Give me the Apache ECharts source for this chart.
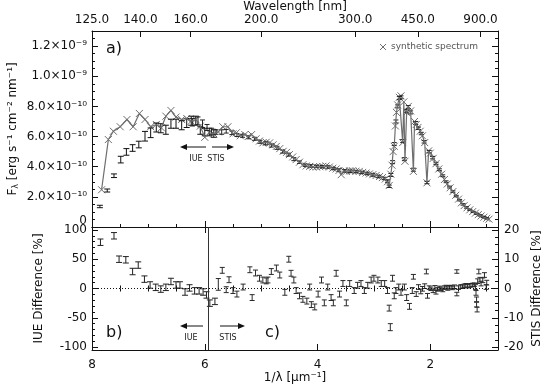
<!DOCTYPE html>
<html>
<head>
<meta charset="utf-8">
<title>Spectrum</title>
<script src="https://cdn.jsdelivr.net/npm/echarts@6/dist/echarts.min.js"></script>
<style>
html, body { margin: 0; padding: 0; background: #fff; }
#chart { width: 546px; height: 389px; }
</style>
</head>
<body>
<div id="chart"></div>
<script>
// axis ticks
var waveTicks = [125, 140, 160, 200, 300, 450, 900];          // nm, top axis
var invTicks = [2, 4, 6, 8];                                   // 1/lambda labels
var invMinorTicks = [1, 1.5, 2.5, 3, 3.5, 4.5, 5, 5.5, 6.5, 7, 7.5];
var fluxTicks = [0, 2, 4, 6, 8, 10, 12];                      // units of 1e-10
var fluxMinorTicks = [0.5, 1, 1.5, 2.5, 3, 3.5, 4.5, 5, 5.5, 6.5, 7, 7.5, 8.5, 9, 9.5, 10.5, 11, 11.5, 12.5];
var iueTicks = [-100, -50, 0, 50, 100];
var iueMinorTicks = [-90, -80, -70, -60, -40, -30, -20, -10, 10, 20, 30, 40, 60, 70, 80, 90];
var stisTicks = [-20, -10, 0, 10, 20];
var stisMinorTicks = [-17.5, -15, -12.5, -7.5, -5, -2.5, 2.5, 5, 7.5, 12.5, 15, 17.5];
var iueStisSplit = 5.93;

// synthetic spectrum (flux in 1e-10 erg s-1 cm-2 nm-1)
var synthX = [7.83, 7.71, 7.62, 7.50, 7.38, 7.27, 7.16, 7.06, 6.96, 6.86, 6.77, 6.69, 6.60, 6.51, 6.41, 6.32,
    6.24, 6.16, 6.08, 6.00, 5.92, 5.84, 5.76, 5.68, 5.59, 5.50, 5.44, 5.37, 5.29, 5.23, 5.17, 5.09, 5.03, 4.97,
    4.91, 4.85, 4.79, 4.73, 4.67, 4.61, 4.55, 4.50, 4.44, 4.38, 4.32, 4.26, 4.20, 4.14, 4.08, 4.02, 3.96, 3.91,
    3.85, 3.79, 3.73, 3.67, 3.62, 3.58, 3.53, 3.49, 3.43, 3.38, 3.32, 3.26, 3.20, 3.14, 3.08, 3.02, 2.96, 2.90,
    2.85, 2.80, 2.76, 2.73, 2.70, 2.68, 2.66, 2.64, 2.62, 2.60, 2.58, 2.55, 2.52, 2.49, 2.47, 2.45, 2.42, 2.39,
    2.35, 2.30, 2.28, 2.25, 2.22, 2.18, 2.14, 2.10, 2.06, 2.03, 2.00, 1.95, 1.90, 1.85, 1.80, 1.75, 1.70, 1.65,
    1.60, 1.55, 1.50, 1.45, 1.40, 1.35, 1.30, 1.25, 1.20, 1.15, 1.10, 1.05, 1.00, 0.96];
var synthF = [2.47, 5.80, 6.35, 6.65, 7.13, 6.65, 7.53, 7.13, 6.65, 6.80, 6.58, 7.35, 7.73, 7.29, 7.13, 7.20,
    7.02, 7.13, 6.69, 5.95, 6.25, 6.18, 6.31, 6.65, 6.65, 6.18, 6.25, 6.05, 6.13, 6.00, 6.13, 5.85, 5.70, 5.58,
    5.62, 5.58, 5.45, 5.35, 5.20, 5.02, 4.95, 4.80, 4.65, 4.47, 4.30, 4.13, 4.05, 4.02, 3.98, 3.98, 4.00, 4.02,
    4.05, 3.98, 3.90, 3.85, 3.75, 3.47, 3.72, 3.69, 3.72, 3.73, 3.70, 3.69, 3.62, 3.58, 3.52, 3.47, 3.42, 3.35,
    3.28, 3.18, 3.00, 2.75, 3.50, 4.10, 5.00, 5.35, 6.70, 7.60, 8.10, 8.60, 8.70, 5.60, 8.30, 4.36, 7.60, 8.00,
    7.70, 3.69, 7.00, 6.80, 6.60, 6.35, 6.05, 5.60, 2.93, 5.05, 4.90, 4.55, 4.20, 3.85, 3.50, 3.15, 2.85, 2.60,
    2.35, 2.10, 1.85, 1.60, 1.42, 1.27, 1.14, 1.02, 0.92, 0.82, 0.73, 0.65, 0.58, 0.52];

// IUE fluxes
var fluxIueX = [7.86, 7.73, 7.61, 7.49, 7.39, 7.28, 7.17, 7.06, 6.96, 6.86, 6.78, 6.69, 6.60, 6.51, 6.41, 6.32,
    6.24, 6.16, 6.08, 6.00, 5.92, 5.84];
var fluxIue = [1.36, 2.42, 3.40, 4.47, 4.98, 5.24, 5.47, 6.02, 6.25, 6.60, 6.55, 6.45, 6.85, 6.85, 6.75, 6.90,
    7.05, 7.05, 6.40, 6.30, 6.30, 6.20];
var fluxIueErr = [0.08, 0.1, 0.12, 0.22, 0.22, 0.22, 0.22, 0.32, 0.32, 0.3, 0.3, 0.3, 0.3, 0.3, 0.3, 0.3,
    0.3, 0.3, 0.25, 0.25, 0.25, 0.25];

// STIS fluxes
var fluxStisX = [6.22, 6.12, 6.04, 5.96, 5.88, 5.80, 5.70, 5.62, 5.52, 5.43, 5.33, 5.22, 5.12, 5.02, 4.92, 4.82,
    4.72, 4.62, 4.52, 4.42, 4.32, 4.22, 4.12, 4.02, 3.92, 3.82, 3.72, 3.62, 3.52, 3.42, 3.32, 3.22, 3.12, 3.02,
    2.92, 2.82, 2.76, 2.73, 2.70, 2.67, 2.64, 2.61, 2.58, 2.55, 2.52, 2.49, 2.46, 2.43, 2.39, 2.35, 2.30, 2.26,
    2.21, 2.16, 2.11, 2.06, 2.02, 1.96, 1.90, 1.84, 1.78, 1.72, 1.66, 1.60, 1.54, 1.48, 1.42, 1.36, 1.30, 1.24,
    1.18, 1.12, 1.06, 1.00];
var fluxStis = [6.95, 7.05, 6.85, 6.60, 6.35, 6.30, 6.30, 6.35, 6.25, 6.10, 6.05, 5.95, 5.85, 5.65, 5.55, 5.40,
    5.25, 5.00, 4.80, 4.50, 4.30, 4.10, 4.05, 4.02, 4.00, 3.98, 3.88, 3.78, 3.72, 3.70, 3.68, 3.62, 3.55, 3.45,
    3.35, 3.22, 3.05, 2.70, 3.45, 4.30, 5.50, 7.00, 8.00, 8.55, 8.60, 5.70, 4.50, 7.70, 7.95, 7.60, 3.80, 6.90,
    6.55, 6.20, 5.65, 2.95, 5.00, 4.60, 4.20, 3.80, 3.40, 3.00, 2.65, 2.35, 2.05, 1.78, 1.50, 1.30, 1.14, 1.00,
    0.88, 0.77, 0.66, 0.58];
var fluxStisErr = [0.25, 0.25, 0.25, 0.2, 0.2, 0.15, 0.15, 0.12, 0.12, 0.1, 0.1, 0.1, 0.1, 0.1, 0.1, 0.1,
    0.1, 0.1, 0.1, 0.1, 0.08, 0.08, 0.08, 0.08, 0.08, 0.08, 0.08, 0.08, 0.08, 0.08, 0.08, 0.08, 0.08, 0.08,
    0.08, 0.08, 0.08, 0.08, 0.1, 0.1, 0.1, 0.1, 0.1, 0.1, 0.1, 0.1, 0.1, 0.1, 0.1, 0.1, 0.1, 0.1,
    0.08, 0.08, 0.08, 0.08, 0.08, 0.08, 0.06, 0.06, 0.06, 0.06, 0.06, 0.05, 0.05, 0.05, 0.05, 0.05, 0.04, 0.04,
    0.04, 0.04, 0.04, 0.04];

// IUE difference [%]
var iueX = [7.85, 7.61, 7.52, 7.40, 7.28, 7.18, 7.07, 6.97, 6.87, 6.78, 6.69, 6.60, 6.51, 6.44, 6.35, 6.27,
    6.18, 6.10, 6.03, 5.97, 5.91, 5.82];
var iueDiff = [79, 90, 50, 49, 29, 40, 16, 6, 2, -1, 2, 12, 6, 6, -6, 1, -4, -4, -6, -11, -25, -22];
var iueErr = [5.5, 5.5, 5.5, 5.5, 5.5, 5.5, 5.5, 5.5, 5.5, 5.5, 5.5, 5.5, 5.5, 5.5, 5.5, 5.5, 5.5, 5.5, 5.5,
    5.5, 5.5, 5.5];

// STIS difference [%]
var stisX = [5.76, 5.69, 5.62, 5.57, 5.50, 5.43, 5.32, 5.20, 5.16, 5.10, 5.03, 4.97, 4.91, 4.88, 4.82, 4.73,
    4.67, 4.58, 4.51, 4.47, 4.42, 4.38, 4.32, 4.26, 4.19, 4.14, 4.11, 4.05, 3.99, 3.93, 3.88, 3.82, 3.76, 3.72,
    3.67, 3.61, 3.55, 3.49, 3.43, 3.35, 3.29, 3.23, 3.17, 3.11, 3.05, 3.00, 2.93, 2.87, 2.81, 2.76, 2.73, 2.71,
    2.67, 2.64, 2.61, 2.56, 2.52, 2.46, 2.42, 2.37, 2.32, 2.30, 2.25, 2.21, 2.17, 2.14, 2.10, 2.07, 2.05, 2.02,
    1.99, 1.95, 1.92, 1.90, 1.87, 1.84, 1.81, 1.78, 1.75, 1.72, 1.69, 1.66, 1.63, 1.60, 1.57, 1.53, 1.53, 1.50,
    1.46, 1.43, 1.40, 1.37, 1.34, 1.31, 1.28, 1.25, 1.22, 1.20, 1.19, 1.18, 1.18, 1.17, 1.16, 1.14, 1.12, 1.10,
    1.07, 1.04, 1.01, 1.00];
var stisDiff = [1.4, 6.2, -0.4, 3.0, -0.7, -1.9, 0.5, 6.4, -3.1, 5.3, 3.5, 2.9, 2.6, 2.9, 5.8, 7.0,
    4.6, -1.3, 10.0, 5.2, 2.9, -0.7, -2.5, -3.7, -4.3, 0.5, -5.5, -6.3, -1.9, 2.9, -4.9, 0.5, -3.1, -4.9,
    5.2, -1.9, 1.7, -4.9, 1.7, -0.7, 1.1, 1.7, -0.7, 1.1, 2.9, 3.5, 2.9, 1.7, 1.7, -0.7, -6.7, -13.2,
    3.5, -2.5, -0.7, 0.5, -1.3, 0.5, -3.1, -6.1, -0.7, 4.0, -1.9, 0.5, -1.0, -0.1, 0.8, 5.8, -2.5, 0.3,
    -0.1, -0.8, 0.4, -1.3, -0.3, 0.2, -0.1, -0.5, 0.3, 0.5, 0.0, 0.4, 0.5, 0.2, 0.6, 5.8, -1.9, 0.3,
    0.7, 0.6, 0.9, 1.1, 0.8, 1.0, 1.1, 1.2, 1.3, 0.5, -1.5, -3.7, -5.5, -7.2, 2.5, 5.8, 3.0, 1.7,
    2.8, 4.6, 0.5, 2.0];
var stisErr = [2.0, 1.0, 1.0, 1.0, 1.0, 1.0, 1.0, 1.0, 1.0, 1.0, 1.0, 1.0, 1.0, 1.0, 1.0, 1.0,
    1.0, 1.0, 1.0, 1.0, 1.0, 1.0, 1.0, 1.0, 1.0, 1.0, 1.0, 1.0, 1.0, 1.0, 1.0, 1.0, 1.0, 1.0,
    1.0, 1.0, 1.0, 1.0, 1.0, 1.0, 1.0, 1.0, 1.0, 1.0, 1.0, 1.0, 1.0, 1.0, 1.0, 1.0, 1.0, 1.2,
    1.0, 1.0, 1.0, 1.0, 1.0, 1.0, 1.0, 1.0, 1.0, 0.8, 0.8, 0.8, 0.8, 0.8, 0.8, 0.8, 0.8, 0.6,
    0.6, 0.6, 0.6, 0.6, 0.6, 0.6, 0.6, 0.6, 0.6, 0.6, 0.6, 0.6, 0.6, 0.6, 0.6, 0.6, 0.6, 0.6,
    0.6, 0.6, 0.6, 0.6, 0.6, 0.6, 0.6, 0.6, 0.6, 0.8, 0.8, 0.8, 0.8, 0.8, 0.8, 0.8, 0.8, 0.8,
    0.8, 0.8, 0.8, 0.8];

var font = 'DejaVu Sans';
var axisColor = '#111';
var synthColor = '#6e6e6e';

function zip(xs, ys, es) {
    return xs.map(function (x, i) {
        return es ? [x, ys[i], es[i]] : [x, ys[i]];
    });
}

function sup(n) {
    var map = {'-': '\u207b', '0': '\u2070', '1': '\u00b9', '2': '\u00b2', '3': '\u00b3', '4': '\u2074',
        '5': '\u2075', '6': '\u2076', '7': '\u2077', '8': '\u2078', '9': '\u2079'};
    return String(n).split('').map(function (c) { return map[c]; }).join('');
}

function sciLabel(v) {
    if (v === 0) return '0';
    var val = v * 1e-10;
    var exp = Math.floor(Math.log10(val) + 1e-9);
    var mant = val / Math.pow(10, exp);
    return mant.toFixed(1) + '\u00d710' + sup(exp);
}

// vertical error bar with caps
function errorBar(color, cap) {
    return function (params, api) {
        var x = api.value(0), y = api.value(1), e = api.value(2);
        var hi = api.coord([x, y + e]);
        var lo = api.coord([x, y - e]);
        return {
            type: 'group',
            children: [
                {type: 'line', shape: {x1: hi[0], y1: hi[1], x2: lo[0], y2: lo[1]}, style: {stroke: color, lineWidth: 1}},
                {type: 'line', shape: {x1: hi[0] - cap, y1: hi[1], x2: hi[0] + cap, y2: hi[1]}, style: {stroke: color, lineWidth: 1}},
                {type: 'line', shape: {x1: lo[0] - cap, y1: lo[1], x2: lo[0] + cap, y2: lo[1]}, style: {stroke: color, lineWidth: 1}}
            ]
        };
    };
}

// x shaped marker
function crossMark(color, r) {
    return function (params, api) {
        var p = api.coord([api.value(0), api.value(1)]);
        return {
            type: 'group',
            children: [
                {type: 'line', shape: {x1: p[0] - r, y1: p[1] - r, x2: p[0] + r, y2: p[1] + r}, style: {stroke: color, lineWidth: 1}},
                {type: 'line', shape: {x1: p[0] - r, y1: p[1] + r, x2: p[0] + r, y2: p[1] - r}, style: {stroke: color, lineWidth: 1}}
            ]
        };
    };
}

function xAx(grid, pos, ticks, len, opts) {
    var a = {
        gridIndex: grid, type: 'value', position: pos, min: 0.8, max: 8, inverse: true,
        nameMoveOverlap: false,
        axisLine: {show: true, onZero: false, lineStyle: {color: axisColor}},
        axisTick: {show: true, inside: true, length: len, customValues: ticks, lineStyle: {color: axisColor}},
        axisLabel: {show: false, customValues: ticks},
        splitLine: {show: false}
    };
    return Object.assign(a, opts || {});
}

function yAx(grid, pos, min, max, ticks, len, opts) {
    var a = {
        gridIndex: grid, type: 'value', position: pos, min: min, max: max,
        nameMoveOverlap: false,
        axisLine: {show: true, onZero: false, lineStyle: {color: axisColor}},
        axisTick: {show: true, inside: true, length: len, customValues: ticks, lineStyle: {color: axisColor}},
        axisLabel: {show: false, customValues: ticks},
        splitLine: {show: false}
    };
    return Object.assign(a, opts || {});
}

var labelStyle = {show: true, color: '#111', fontFamily: font, fontSize: 12};
var nameStyle = {color: '#111', fontFamily: font, fontSize: 12};

var myChart = echarts.init(document.getElementById('chart'));

var option = {
    backgroundColor: '#fff',
    animation: false,
    grid: [
        {left: 92, right: 48, top: 31, height: 196, outerBoundsMode: 'none', containLabel: false},
        {left: 92, right: 48, top: 227, height: 123, outerBoundsMode: 'none', containLabel: false}
    ],
    xAxis: [
        xAx(0, 'bottom', invTicks, 6),
        xAx(0, 'bottom', invMinorTicks, 3, {axisLine: {show: false}}),
        xAx(0, 'top', waveTicks.map(function (w) { return 1000 / w; }), 6, {
            name: 'Wavelength [nm]', nameLocation: 'middle', nameGap: 18, nameTextStyle: nameStyle,
            axisLabel: Object.assign({}, labelStyle, {
                customValues: waveTicks.map(function (w) { return 1000 / w; }),
                margin: 5,
                formatter: function (v) { return (1000 / v).toFixed(1); }
            })
        }),
        xAx(1, 'bottom', invTicks, 6, {
            name: '1/\u03bb [\u03bcm\u207b\u00b9]', nameLocation: 'middle', nameGap: 22, nameTextStyle: nameStyle,
            axisLabel: Object.assign({}, labelStyle, {customValues: invTicks, margin: 9})
        }),
        xAx(1, 'bottom', invMinorTicks, 3, {axisLine: {show: false}}),
        xAx(1, 'top', invTicks, 6),
        xAx(1, 'top', invMinorTicks, 3, {axisLine: {show: false}})
    ],
    yAxis: [
        yAx(0, 'left', 0, 13, fluxTicks, 6, {
            axisLabel: Object.assign({}, labelStyle, {
                customValues: fluxTicks, formatter: sciLabel, margin: 5, verticalAlignMinLabel: 'bottom'
            }),
            name: '{f|F}{l|\u03bb} [erg s\u207b\u00b9 cm\u207b\u00b2 nm\u207b\u00b9]',
            nameLocation: 'middle', nameGap: 72,
            nameTextStyle: Object.assign({}, nameStyle, {rich: {
                f: {fontFamily: font, fontSize: 12, color: '#111'},
                l: {fontFamily: font, fontSize: 8, color: '#111', padding: [6, 0, 0, 0]}
            }})
        }),
        yAx(0, 'left', 0, 13, fluxMinorTicks, 3, {axisLine: {show: false}}),
        yAx(0, 'right', 0, 13, fluxTicks, 6),
        yAx(0, 'right', 0, 13, fluxMinorTicks, 3, {axisLine: {show: false}}),
        yAx(1, 'left', -105, 105, iueTicks, 6, {
            axisLabel: Object.assign({}, labelStyle, {customValues: iueTicks, margin: 5}),
            name: 'IUE Difference [%]', nameLocation: 'middle', nameGap: 47, nameTextStyle: nameStyle
        }),
        yAx(1, 'left', -105, 105, iueMinorTicks, 3, {axisLine: {show: false}}),
        yAx(1, 'right', -21, 21, stisTicks, 6, {
            axisLabel: Object.assign({}, labelStyle, {customValues: stisTicks, margin: 6}),
            name: 'STIS Difference [%]', nameLocation: 'middle', nameGap: 33, nameTextStyle: nameStyle
        }),
        yAx(1, 'right', -21, 21, stisMinorTicks, 3, {axisLine: {show: false}})
    ],
    series: [
        {
            name: 'synthetic line', type: 'line', xAxisIndex: 0, yAxisIndex: 0,
            data: zip(synthX, synthF), symbol: 'none', silent: true,
            lineStyle: {color: synthColor, width: 1.2}
        },
        {
            name: 'synthetic spectrum', type: 'custom', xAxisIndex: 0, yAxisIndex: 0,
            data: zip(synthX, synthF), encode: {x: 0, y: 1},
            renderItem: crossMark(synthColor, 3.5)
        },
        {
            name: 'IUE flux', type: 'custom', xAxisIndex: 0, yAxisIndex: 0,
            data: zip(fluxIueX, fluxIue, fluxIueErr), encode: {x: 0, y: 1},
            renderItem: errorBar('#111', 3)
        },
        {
            name: 'STIS flux', type: 'custom', xAxisIndex: 0, yAxisIndex: 0,
            data: zip(fluxStisX, fluxStis, fluxStisErr), encode: {x: 0, y: 1},
            renderItem: errorBar('#222', 2.5)
        },
        {
            name: 'IUE diff', type: 'custom', xAxisIndex: 3, yAxisIndex: 4,
            data: zip(iueX, iueDiff, iueErr), encode: {x: 0, y: 1},
            renderItem: errorBar('#222', 3),
            markLine: {
                silent: true, symbol: 'none', label: {show: false},
                data: [
                    {yAxis: 0, lineStyle: {color: '#111', type: [1, 2], width: 1}},
                    {xAxis: iueStisSplit, lineStyle: {color: '#333', type: 'solid', width: 1}}
                ]
            }
        },
        {
            name: 'STIS diff', type: 'custom', xAxisIndex: 3, yAxisIndex: 6,
            data: zip(stisX, stisDiff, stisErr), encode: {x: 0, y: 1},
            renderItem: errorBar('#2a2a2a', 2.5)
        }
    ],
    graphic: [
        {type: 'text', left: 106, top: 41, style: {text: 'a)', font: '16px ' + font, fill: '#111'}},
        {type: 'text', left: 106, top: 325, style: {text: 'b)', font: '16px ' + font, fill: '#111'}},
        {type: 'text', left: 265, top: 325, style: {text: 'c)', font: '16px ' + font, fill: '#111'}},
        // top panel arrows
        {type: 'line', shape: {x1: 183, y1: 147, x2: 206, y2: 147}, style: {stroke: '#111', lineWidth: 1}},
        {type: 'polygon', shape: {points: [[180, 147], [187, 144], [187, 150]]}, style: {fill: '#111'}},
        {type: 'line', shape: {x1: 212, y1: 147, x2: 231, y2: 147}, style: {stroke: '#111', lineWidth: 1}},
        {type: 'polygon', shape: {points: [[234, 147], [227, 144], [227, 150]]}, style: {fill: '#111'}},
        {type: 'text', x: 196, y: 159, style: {text: 'IUE', font: '8px ' + font, fill: '#222', align: 'center', verticalAlign: 'middle'}},
        {type: 'text', x: 216, y: 159, style: {text: 'STIS', font: '8px ' + font, fill: '#222', align: 'center', verticalAlign: 'middle'}},
        // bottom panel arrows
        {type: 'line', shape: {x1: 183, y1: 326, x2: 203, y2: 326}, style: {stroke: '#111', lineWidth: 1}},
        {type: 'polygon', shape: {points: [[180, 326], [187, 323], [187, 329]]}, style: {fill: '#111'}},
        {type: 'text', x: 191, y: 338, style: {text: 'IUE', font: '8px ' + font, fill: '#222', align: 'center', verticalAlign: 'middle'}},
        {type: 'line', shape: {x1: 220, y1: 326, x2: 242, y2: 326}, style: {stroke: '#111', lineWidth: 1}},
        {type: 'polygon', shape: {points: [[245, 326], [238, 323], [238, 329]]}, style: {fill: '#111'}},
        {type: 'text', x: 228, y: 338, style: {text: 'STIS', font: '8px ' + font, fill: '#222', align: 'center', verticalAlign: 'middle'}},
        // legend
        {type: 'line', shape: {x1: 380, y1: 44, x2: 386, y2: 50}, style: {stroke: synthColor, lineWidth: 1}},
        {type: 'line', shape: {x1: 380, y1: 50, x2: 386, y2: 44}, style: {stroke: synthColor, lineWidth: 1}},
        {type: 'text', x: 391, y: 47, style: {text: 'synthetic spectrum', font: '9px ' + font, fill: '#555', verticalAlign: 'middle'}}
    ]
};

myChart.setOption(option);
</script>
</body>
</html>
